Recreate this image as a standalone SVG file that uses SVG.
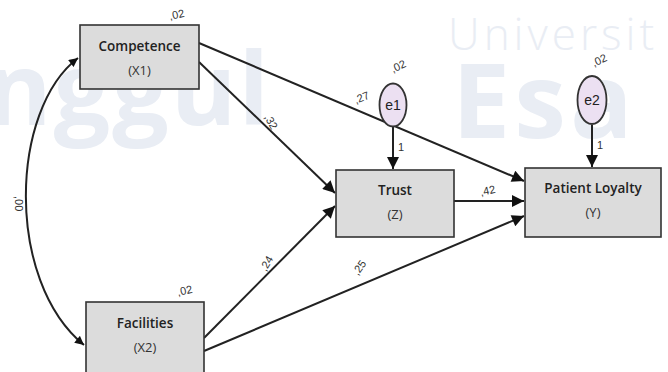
<svg xmlns="http://www.w3.org/2000/svg" width="668" height="372" viewBox="0 0 668 372">
<defs>
<style>
.wm{font-family:"Open Sans","Liberation Sans",sans-serif;fill:#e9edf4}
.box{fill:#dcdcdc;stroke:#333;stroke-width:1.6}
.err{fill:#ece0f2;stroke:#333;stroke-width:1.8}
.t1{font-family:"Open Sans","Liberation Sans",sans-serif;font-size:13.5px;font-weight:600;fill:#222;text-anchor:middle}
.t2{font-family:"Open Sans","Liberation Sans",sans-serif;font-size:13px;fill:#333;text-anchor:middle}
.te{font-family:"Liberation Sans",sans-serif;font-size:14px;fill:#222;text-anchor:middle}
.lb{font-family:"Liberation Sans Narrow","Liberation Sans",sans-serif;font-size:11px;fill:#333}
.ln{fill:none;stroke:#222;stroke-width:2}
</style>
<marker id="ah2" viewBox="0 0 10 10" refX="10" refY="5" markerWidth="10" markerHeight="9" orient="auto-start-reverse" markerUnits="userSpaceOnUse">
<path d="M0,0 L10,5 L0,10 z" fill="#111"/>
</marker>
<marker id="ah3" viewBox="0 0 10 10" refX="10" refY="5" markerWidth="14" markerHeight="12" orient="auto" markerUnits="userSpaceOnUse">
<path d="M0,0 L10,5 L0,10 z" fill="#111"/>
</marker>
</defs>
<rect width="668" height="372" fill="#ffffff"/>
<g id="watermark">
<text class="wm" x="448" y="50" font-size="44" font-weight="300" letter-spacing="4">Universit</text>
<text class="wm" x="452" y="138" font-size="104" font-weight="bold" letter-spacing="4">Esa U</text>
<text class="wm" x="-14" y="125" font-size="100" font-weight="bold" letter-spacing="2">nggul</text>
</g>
<g id="connectors">
<path class="ln" d="M78,58 C10,110 5,280 84,345" marker-start="url(#ah2)" marker-end="url(#ah2)" stroke-width="1.6"/>
<line class="ln" x1="199" y1="43" x2="524" y2="181" marker-end="url(#ah3)"/>
<line class="ln" x1="199" y1="62" x2="335" y2="193" marker-end="url(#ah3)"/>
<line class="ln" x1="204" y1="338" x2="335" y2="206" marker-end="url(#ah3)"/>
<line class="ln" x1="204" y1="351" x2="524" y2="216" marker-end="url(#ah3)"/>
<line class="ln" x1="454" y1="201" x2="524" y2="201" marker-end="url(#ah3)"/>
<line class="ln" x1="393" y1="127" x2="393" y2="169" marker-end="url(#ah3)" stroke-width="1.6"/>
<line class="ln" x1="592" y1="125" x2="592" y2="167" marker-end="url(#ah3)" stroke-width="1.6"/>
<text class="lb" transform="translate(356,104) rotate(-22)">,27</text>
<text class="lb" transform="translate(264,117) rotate(60)">,32</text>
<text class="lb" transform="translate(266,272) rotate(-60)">,24</text>
<text class="lb" transform="translate(358,276) rotate(-55)">,25</text>
<text class="lb" transform="translate(481,196) rotate(-12)">,42</text>
<text class="lb" transform="translate(15,196) rotate(90)">,00</text>
<text class="lb" font-size="5" x="398" y="151">1</text>
<text class="lb" font-size="5" x="597" y="149">1</text>
</g>
<g id="competence">
<rect class="box" x="80" y="25" width="119" height="64"/>
<text class="t1" x="139.5" y="51">Competence</text>
<text class="t2" x="139.5" y="75">(X1)</text>
<text class="lb" transform="translate(170,20) rotate(-12)">,02</text>
</g>
<g id="facilities">
<rect class="box" x="86" y="302" width="118" height="76"/>
<text class="t1" x="145" y="328">Facilities</text>
<text class="t2" x="145" y="352">(X2)</text>
<text class="lb" transform="translate(178,296) rotate(-12)">,02</text>
</g>
<g id="trust">
<rect class="box" x="336" y="170" width="118" height="67"/>
<text class="t1" x="395" y="195">Trust</text>
<text class="t2" x="395" y="219">(Z)</text>
</g>
<g id="loyalty">
<rect class="box" x="525" y="168" width="136" height="69"/>
<text class="t1" x="593" y="193">Patient Loyalty</text>
<text class="t2" x="593" y="217">(Y)</text>
</g>
<g id="e1">
<ellipse class="err" cx="393" cy="105" rx="13.5" ry="21.5"/>
<text class="te" x="393" y="110">e1</text>
<text class="lb" transform="translate(393,73) rotate(-25)">,02</text>
</g>
<g id="e2">
<ellipse class="err" cx="592" cy="100" rx="14.5" ry="24"/>
<text class="te" x="592" y="105">e2</text>
<text class="lb" transform="translate(594,67) rotate(-25)">,02</text>
</g>
</svg>
